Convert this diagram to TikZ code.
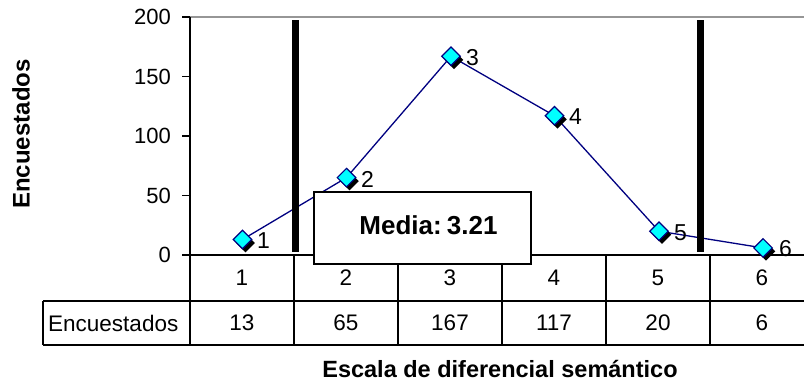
\documentclass[tikz,border=0pt]{standalone}
\usepackage{fontspec}
\setmainfont{Liberation Sans}
\usetikzlibrary{shapes.geometric,shadows,backgrounds}
\definecolor{navyc}{RGB}{0,0,128}
\definecolor{cyanc}{RGB}{0,255,255}
\definecolor{gridc}{RGB}{150,150,150}
\begin{document}
\begin{tikzpicture}[x=1pt,y=-1pt,
  datapt/.style={diamond,draw=navyc,fill=cyanc,line width=1.2pt,inner sep=0pt,
    minimum width=19pt,minimum height=19pt,
    drop shadow={shadow xshift=3pt,shadow yshift=-3.5pt,fill=black,opacity=1}},
  ptlabel/.style={anchor=west,inner sep=0pt,font=\fontsize{23}{25}\selectfont},
  ticklab/.style={anchor=east,inner sep=0pt,font=\fontsize{22}{24}\selectfont},
  celltext/.style={inner sep=0pt,font=\fontsize{22.5}{24}\selectfont},
  tline/.style={line width=1.2pt},
  meanbar/.style={line width=6.5pt},
  serie/.style={draw=navyc,line width=1.3pt}
]
\useasboundingbox (0,0) rectangle (804,383);

% grid top line
\draw[gridc,line width=1.3pt] (190,17) -- (804,17);

% y axis and ticks
\draw[tline] (190,17) -- (190,345);
\foreach \v/\yy in {0/255,50/195.5,100/136,150/76.5,200/17}{
  \draw[tline] (182,\yy) -- (190,\yy);
  \node[ticklab] (t\v) at (171,\yy) {\v};
}

% table lines
\draw[tline] (190,255) -- (804,255);
\draw[tline] (43,301) -- (804,301);
\draw[tline] (43,345) -- (804,345);
\draw[tline] (43,301) -- (43,345);
\foreach \xx in {294,398,502,606,710}{
  \draw[tline] (\xx,255) -- (\xx,345);
}

% category row and values row
\foreach \i/\xx/\val in {1/242/13,2/346/65,3/450/167,4/554/117,5/658/20,6/762/6}{
  \node[celltext] (c\i) at (\xx,278) {\i};
  \node[celltext] (v\i) at (\xx,323) {\val};
}
\node[celltext,anchor=west] (rowname) at (48,323) {Encuestados};

% data points
\node[datapt] (p1) at (242.5,239.5) {};
\node[datapt] (p2) at (346.5,177.6) {};
\node[datapt] (p3) at (451,56.3) {};
\node[datapt] (p4) at (554.5,115.8) {};
\node[datapt] (p5) at (659,231.2) {};
\node[datapt] (p6) at (763,247.9) {};

\begin{scope}[on background layer]
  \draw[serie] (p1.center) -- (p2.center) -- (p3.center) -- (p4.center) -- (p5.center) -- (p6.center);
\end{scope}

\node[ptlabel] (l1) at (257,241) {1};
\node[ptlabel] (l2) at (361,179) {2};
\node[ptlabel] (l3) at (466,58) {3};
\node[ptlabel] (l4) at (569,117) {4};
\node[ptlabel] (l5) at (674,233) {5};
\node[ptlabel] (l6) at (779,249) {6};

% mean bars
\draw[meanbar] (295.5,20) -- (295.5,252);
\draw[meanbar] (700.5,20) -- (700.5,252);

% media box
\node[draw,fill=white,line width=1.3pt,minimum width=217pt,minimum height=72pt,inner sep=0pt] (mbox) at (422.5,228) {};
\node[inner sep=0pt,font=\bfseries\fontsize{26}{28}\selectfont] (mtext) at (428.5,225) {Media:\kern-2pt\ 3.21};

% axis titles
\node[rotate=90,inner sep=0pt,font=\bfseries\fontsize{24}{26}\selectfont] (ytitle) at (21,134) {Encuestados};
\node[inner sep=0pt,font=\bfseries\fontsize{23.5}{26}\selectfont] (xtitle) at (500,369) {Escala de diferencial semántico};
\end{tikzpicture}
\end{document}
